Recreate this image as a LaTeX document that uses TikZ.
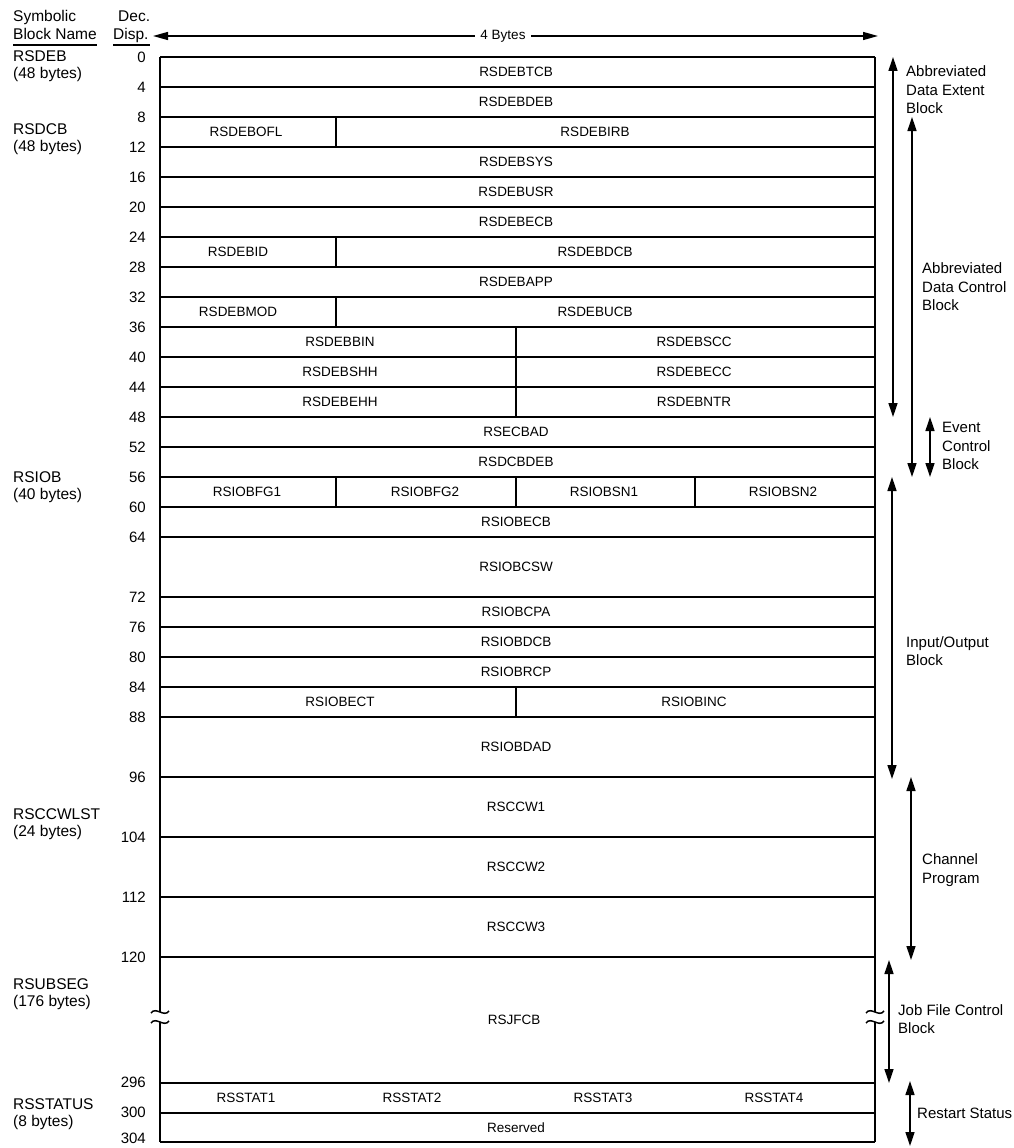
\documentclass[tikz,border=0pt]{standalone}
\usepackage{fontspec}
\setmainfont{Liberation Sans}
\usetikzlibrary{arrows.meta}
\begin{document}
\begin{tikzpicture}[x=1pt,y=-1pt,
  gridline/.style={line width=1.5pt},
  outer/.style={line width=1.9pt},
  cell/.style={font=\fontsize{13.5}{15}\selectfont, inner sep=0pt},
  num/.style={anchor=east, font=\fontsize{15}{16}\selectfont, inner sep=0pt},
  lab/.style={anchor=west, font=\fontsize{15.5}{18}\selectfont, inner sep=0pt, align=left},
  rlab/.style={anchor=west, font=\fontsize{15}{18.5}\selectfont, inner sep=0pt, align=left},
  brk/.style={line width=1.4pt, {Triangle[length=14pt,width=9pt]}-{Triangle[length=14pt,width=9pt]}},
  tilde/.style={line width=1.5pt}
]
\useasboundingbox (0,0) rectangle (1013,1148);
% ---------- header ----------
\node[lab, anchor=base west] (symb) at (13,22) {Symbolic};
\node[lab, anchor=base west] (bname) at (13,40) {Block Name};
\draw[line width=1.2pt] (13,45) -- (97,45);
\node[lab, anchor=base west] (dec) at (118,22) {Dec.};
\node[lab, anchor=base west] (disp) at (113,40) {Disp.};
\draw[line width=1.2pt] (113,45) -- (150,45);
\coordinate (wl) at (153,36);
\coordinate (wr) at (878,36);
\draw[line width=1.4pt, {Triangle[length=15pt,width=8pt]}-{Triangle[length=15pt,width=8pt]}] (wl) -- (wr);
\node[cell, fill=white, inner xsep=5pt, inner ysep=2pt] (fourb) at (503,36) {4 Bytes};
% ---------- box outline ----------
\draw[outer] (160,57) -- (875,57);
\draw[outer] (160,1142) -- (875,1142);
\draw[outer] (160,57) -- (160,1012);
\draw[outer] (160,1022) -- (160,1142);
\draw[outer] (875,57) -- (875,1012);
\draw[outer] (875,1022) -- (875,1142);
\foreach \xx in {160,875}{
  \draw[tilde] (\xx-9,1013) .. controls (\xx-4,1006) and (\xx+4,1018) .. (\xx+9,1011);
  \draw[tilde] (\xx-9,1023) .. controls (\xx-4,1016) and (\xx+4,1028) .. (\xx+9,1021);
}
% ---------- horizontal lines ----------
\foreach \d in {4,8,12,16,20,24,28,32,36,40,44,48,52,56,60,64,72,76,80,84,88,96,104,112,120}{
  \draw[gridline] (160,{57+7.5*\d}) -- (875,{57+7.5*\d});
}
\draw[gridline] (160,1083) -- (875,1083);
\draw[gridline] (160,1113) -- (875,1113);
% ---------- vertical dividers ----------
\foreach \a/\b in {8/12,24/28,32/36,56/60}{
  \draw[gridline] (336,{57+7.5*\a}) -- (336,{57+7.5*\b});
}
\draw[gridline] (516,{57+7.5*36}) -- (516,{57+7.5*48});
\draw[gridline] (516,{57+7.5*56}) -- (516,{57+7.5*60});
\draw[gridline] (516,{57+7.5*84}) -- (516,{57+7.5*88});
\draw[gridline] (695,{57+7.5*56}) -- (695,{57+7.5*60});
% ---------- offsets ----------
\foreach \d in {0,4,8,12,16,20,24,28,32,36,40,44,48,52,56,60,64,72,76,80,84,88,96,104,112,120}{
  \node[num] (n\d) at (146,{57+7.5*\d}) {\d};
}
\node[num] (n296) at (146,1082) {296};
\node[num] (n300) at (146,1112) {300};
\node[num] (n304) at (146,1138) {304};
% ---------- block names ----------
\node[lab] (bdeb) at (13,56) {RSDEB};
\node[lab] (bdebs) at (13,74) {(48 bytes)};
\node[lab] (bdcb) at (13,129) {RSDCB};
\node[lab] (bdcbs) at (13,147) {(48 bytes)};
\node[lab] (biob) at (13,477) {RSIOB};
\node[lab] (biobs) at (13,495) {(40 bytes)};
\node[lab] (bccw) at (13,814) {RSCCWLST};
\node[lab] (bccws) at (13,832) {(24 bytes)};
\node[lab] (bseg) at (13,984) {RSUBSEG};
\node[lab] (bsegs) at (13,1002) {(176 bytes)};
\node[lab] (bsta) at (13,1104) {RSSTATUS};
\node[lab] (bstas) at (13,1122) {(8 bytes)};
% ---------- cell texts ----------
\node[cell] (c1) at (516,72) {RSDEBTCB};
\node[cell] (c2) at (516,102) {RSDEBDEB};
\node[cell] (c3a) at (246,132) {RSDEBOFL};
\node[cell] (c3b) at (595,132) {RSDEBIRB};
\node[cell] (c4) at (516,162) {RSDEBSYS};
\node[cell] (c5) at (516,192) {RSDEBUSR};
\node[cell] (c6) at (516,222) {RSDEBECB};
\node[cell] (c7a) at (238,252) {RSDEBID};
\node[cell] (c7b) at (595,252) {RSDEBDCB};
\node[cell] (c8) at (516,282) {RSDEBAPP};
\node[cell] (c9a) at (238,312) {RSDEBMOD};
\node[cell] (c9b) at (595,312) {RSDEBUCB};
\node[cell] (c10a) at (340,342) {RSDEBBIN};
\node[cell] (c10b) at (694,342) {RSDEBSCC};
\node[cell] (c11a) at (340,372) {RSDEBSHH};
\node[cell] (c11b) at (694,372) {RSDEBECC};
\node[cell] (c12a) at (340,402) {RSDEBEHH};
\node[cell] (c12b) at (694,402) {RSDEBNTR};
\node[cell] (c13) at (516,432) {RSECBAD};
\node[cell] (c14) at (516,462) {RSDCBDEB};
\node[cell] (c15a) at (247,492) {RSIOBFG1};
\node[cell] (c15b) at (425,492) {RSIOBFG2};
\node[cell] (c15c) at (604,492) {RSIOBSN1};
\node[cell] (c15d) at (783,492) {RSIOBSN2};
\node[cell] (c16) at (516,522) {RSIOBECB};
\node[cell] (c17) at (516,567) {RSIOBCSW};
\node[cell] (c18) at (516,612) {RSIOBCPA};
\node[cell] (c19) at (516,642) {RSIOBDCB};
\node[cell] (c20) at (516,672) {RSIOBRCP};
\node[cell] (c21a) at (340,702) {RSIOBECT};
\node[cell] (c21b) at (694,702) {RSIOBINC};
\node[cell] (c22) at (516,747) {RSIOBDAD};
\node[cell] (c23) at (516,807) {RSCCW1};
\node[cell] (c24) at (516,867) {RSCCW2};
\node[cell] (c25) at (516,927) {RSCCW3};
\node[cell] (c26) at (514,1020) {RSJFCB};
\node[cell] (c27a) at (246,1098) {RSSTAT1};
\node[cell] (c27b) at (412,1098) {RSSTAT2};
\node[cell] (c27c) at (603,1098) {RSSTAT3};
\node[cell] (c27d) at (774,1098) {RSSTAT4};
\node[cell] (c28) at (516,1128) {Reserved};
% ---------- right brackets ----------
\coordinate (adebT) at (893,57);   \coordinate (adebB) at (893,417);
\coordinate (adcbT) at (912,117);  \coordinate (adcbB) at (912,477);
\coordinate (ecbT) at (930,417);   \coordinate (ecbB) at (930,477);
\coordinate (iobT) at (892,477);   \coordinate (iobB) at (892,779);
\coordinate (chT) at (911,777);    \coordinate (chB) at (911,960);
\coordinate (jfT) at (889,960);    \coordinate (jfB) at (889,1083);
\coordinate (rsT) at (910,1081);   \coordinate (rsB) at (910,1146);
\draw[brk] (adebT) -- (adebB);
\draw[brk] (adcbT) -- (adcbB);
\draw[brk] (ecbT) -- (ecbB);
\draw[brk] (iobT) -- (iobB);
\draw[brk] (chT) -- (chB);
\draw[brk] (jfT) -- (jfB);
\draw[brk] (rsT) -- (rsB);
\node[rlab] (tadeb) at (906,90) {Abbreviated\\Data Extent\\Block};
\node[rlab] (tadcb) at (922,287) {Abbreviated\\Data Control\\Block};
\node[rlab] (tecb) at (942,446) {Event\\Control\\Block};
\node[rlab] (tiob) at (906,651) {Input/Output\\Block};
\node[rlab] (tch) at (922,870) {Channel\\Program};
\node[rlab] (tjf) at (898,1019) {Job File Control\\Block};
\node[rlab] (trs) at (917,1113) {Restart Status};
\end{tikzpicture}
\end{document}
